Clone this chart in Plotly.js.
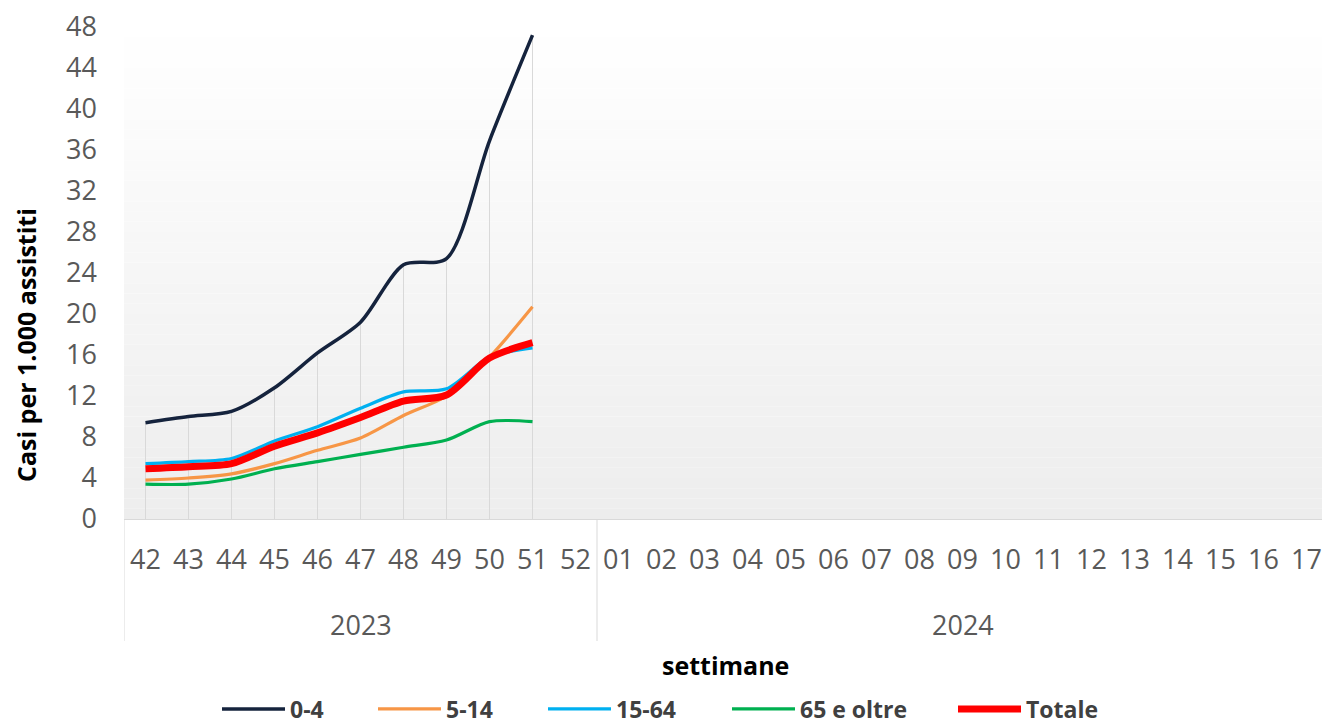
<!DOCTYPE html>
<html>
<head>
<meta charset="utf-8">
<script src="https://cdn.plot.ly/plotly-3.0.1.min.js"></script>
<style>html,body{margin:0;padding:0;background:#fff;}#chart{width:1322px;height:726px;}</style>
</head>
<body>
<div id="chart"></div>
<script>
// ---- data ----
const weeks = ['42','43','44','45','46','47','48','49','50','51','52','01','02','03','04','05','06','07','08','09','10','11','12','13','14','15','16','17'];
const years = ['2023','2023','2023','2023','2023','2023','2023','2023','2023','2023','2023',
               '2024','2024','2024','2024','2024','2024','2024','2024','2024','2024','2024','2024','2024','2024','2024','2024','2024'];
const seriesNames = ['0-4','5-14','15-64','65 e oltre','Totale'];
const s0_4     = [9.4, 10.0, 10.5, 12.8, 16.2, 19.2, 24.8, 25.4, 36.9, 47.2];
const s5_14    = [3.8, 4.0, 4.4, 5.4, 6.7, 7.9, 10.1, 12.0, 15.8, 20.7];
const s15_64   = [5.4, 5.6, 5.9, 7.6, 9.0, 10.8, 12.4, 12.7, 15.8, 16.7];
const s65      = [3.4, 3.4, 3.9, 4.9, 5.6, 6.3, 7.0, 7.7, 9.5, 9.5];
const sTot     = [4.9, 5.1, 5.4, 7.1, 8.4, 9.9, 11.5, 12.1, 15.7, 17.2];

// ---- styles ----
const colors = ['#15233d', '#f79646', '#00b0f0', '#00b050', '#ff0000'];
const widths = [3.5, 3.2, 3.2, 3.2, 7];
const values = [s0_4, s5_14, s15_64, s65, sTot];
const FONT = '"Open Sans", "Liberation Sans", sans-serif';

const W = 1322, H = 726, ML = 124, MT = 27, PB = 519;
const PW = W - ML, PH = PB - MT;
const py = px => (PB - px) / PH;   // pixel row -> paper y
const pxX = px => (px - ML) / PW;  // pixel col -> paper x

const n = s0_4.length;
const xData = weeks.slice(0, n);
const maxes = s0_4.map((_, i) => Math.max(...values.map(v => v[i])));

const traces = [];
// axis categories holder
traces.push({x: weeks, y: weeks.map(() => null), type: 'scatter', mode: 'lines',
  showlegend: false, hoverinfo: 'skip'});
// drop lines
traces.push({x: xData, y: maxes, type: 'scatter', mode: 'markers', marker: {opacity: 0, size: 1},
  showlegend: false, hoverinfo: 'skip',
  error_y: {type: 'data', symmetric: false, array: maxes.map(() => 0), arrayminus: maxes,
            width: 0, thickness: 1, color: '#d9d9d9'}});

const legendX = [222, 378, 548, 732, 958];
const legends = {};
values.forEach((v, k) => {
  const lg = k === 0 ? 'legend' : 'legend' + (k + 1);
  traces.push({x: xData, y: v, name: seriesNames[k], type: 'scatter', mode: 'lines',
    line: {color: colors[k], width: widths[k], shape: 'spline', smoothing: 0.8},
    legend: lg});
  legends[lg] = {orientation: 'h', x: pxX(legendX[k] - 5), xanchor: 'left',
    y: py(709), yanchor: 'middle', itemwidth: 63, bgcolor: 'rgba(0,0,0,0)',
    font: {family: FONT, size: 23, color: '#404040', weight: 'bold'}};
});

// gradient plot background
const shapes = [];
const N = 48;
for (let i = 0; i < N; i++) {
  const t = (i + 0.5) / N; // 0 bottom -> 1 top
  const c = Math.round(237 + (255 - 237) * t);
  shapes.push({type: 'rect', xref: 'paper', yref: 'paper', x0: 0, x1: 1, y0: i / N, y1: (i + 1) / N,
    fillcolor: `rgb(${c},${c},${c})`, line: {width: 0}, layer: 'below'});
}

// year groups: dividers and labels
const annotations = [];
const groups = [];
years.forEach((yv, i) => {
  if (!groups.length || groups[groups.length - 1].name !== yv) groups.push({name: yv, start: i, end: i});
  else groups[groups.length - 1].end = i;
});
groups.forEach(g => {
  shapes.push({type: 'line', xref: 'x', yref: 'paper', x0: g.start - 0.5, x1: g.start - 0.5,
    y0: 0, y1: py(641), line: {color: '#d9d9d9', width: 1}, layer: 'above'});
  annotations.push({text: g.name, xref: 'x', yref: 'paper', x: (g.start + g.end) / 2, y: py(624),
    xanchor: 'center', yanchor: 'middle', showarrow: false,
    font: {family: FONT, size: 27, color: '#595959'}});
});

annotations.push(
  {text: '<b>Casi per 1.000 assistiti</b>', textangle: -90, xref: 'paper', yref: 'paper',
   x: pxX(26), y: py(345), xanchor: 'center', yanchor: 'middle', showarrow: false,
   font: {family: FONT, size: 25, color: '#000000'}},
  {text: '<b>settimane</b>', xref: 'paper', yref: 'paper',
   x: pxX(725), y: py(665), xanchor: 'center', yanchor: 'middle', showarrow: false,
   font: {family: FONT, size: 25, color: '#000000'}}
);

const layout = Object.assign({
  width: W, height: H,
  margin: {l: ML, r: 0, t: MT, b: H - PB, autoexpand: false},
  paper_bgcolor: '#ffffff', plot_bgcolor: '#ffffff',
  font: {family: FONT, color: '#595959'},
  showlegend: true,
  xaxis: {type: 'category', range: [-0.5, 27.36], showgrid: false, zeroline: false, automargin: false,
    showline: true, linecolor: '#d9d9d9', linewidth: 1,
    tickfont: {size: 27, color: '#595959'}, ticks: '', ticklabelstandoff: 17},
  yaxis: {range: [0, 48], dtick: 4, showgrid: false, zeroline: false, showline: false, automargin: false,
    tickfont: {size: 27, color: '#595959'}, ticklabelstandoff: 26},
  shapes: shapes,
  annotations: annotations
}, legends);

Plotly.newPlot('chart', traces, layout, {displayModeBar: false, staticPlot: true});
</script>
</body>
</html>
